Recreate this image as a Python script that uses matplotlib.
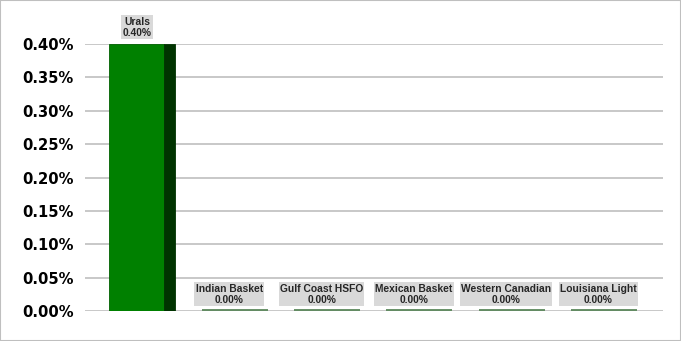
import matplotlib.pyplot as plt
from matplotlib.patches import Rectangle
from matplotlib.ticker import FuncFormatter

crudes = ["Urals", "Indian Basket", "Gulf Coast HSFO", "Mexican Basket",
          "Western Canadian", "Louisiana Light"]
shares = [0.40, 0.00, 0.00, 0.00, 0.00, 0.00]
yticks = [0.00, 0.05, 0.10, 0.15, 0.20, 0.25, 0.30, 0.35, 0.40]

fig = plt.figure(figsize=(6.81, 3.41), dpi=100)
fig.patches.append(Rectangle((0, 0), 1, 1, transform=fig.transFigure,
                             fill=False, edgecolor="#bfbfbf", linewidth=1.5))
ax = fig.add_axes([85/681, 30/341, 578/681, 267/341])

x = list(range(len(crudes)))
front_w = 0.596
side_w = 0.119

ax.bar(x, shares, width=front_w, color="#008000", edgecolor="#006000",
       linewidth=0.6, zorder=3)
ax.bar([i + front_w/2 + side_w/2 for i in x], shares, width=side_w,
       color="#003300", edgecolor="#003300", linewidth=0.6, zorder=3)
# zero-height bars still show a thin line
for i, v in zip(x, shares):
    if v == 0:
        ax.plot([i - front_w/2, i + front_w/2 + side_w], [0.0008, 0.0008],
                color="#4f7f4f", linewidth=1.2, zorder=4, solid_capstyle="butt")

for i, (name, v) in zip(x, zip(crudes, shares)):
    ax.text(i + 0.0, v + 0.0095, f"{name}\n{v:.2f}%", ha="center", va="bottom",
            fontsize=7.4, family="Liberation Sans", fontweight="bold",
            color="#262626", linespacing=1.12, clip_on=False, zorder=5,
            bbox=dict(boxstyle="square,pad=0.12", facecolor="#d9d9d9",
                      edgecolor="none"))

ax.set_xlim(-0.563, 5.699)
ax.set_ylim(0, 0.40)
ax.set_yticks(yticks)
ax.yaxis.set_major_formatter(FuncFormatter(lambda v, p: f"{v:.2f}%"))
ax.tick_params(axis="y", length=0, pad=8, labelsize=10.6)
for lab in ax.get_yticklabels():
    lab.set_fontweight("bold")
ax.set_xticks([])
ax.grid(axis="y", color="#bfbfbf", linewidth=1.2, zorder=0)
for s in ax.spines.values():
    s.set_visible(False)

fig.savefig("out.png", dpi=100)
